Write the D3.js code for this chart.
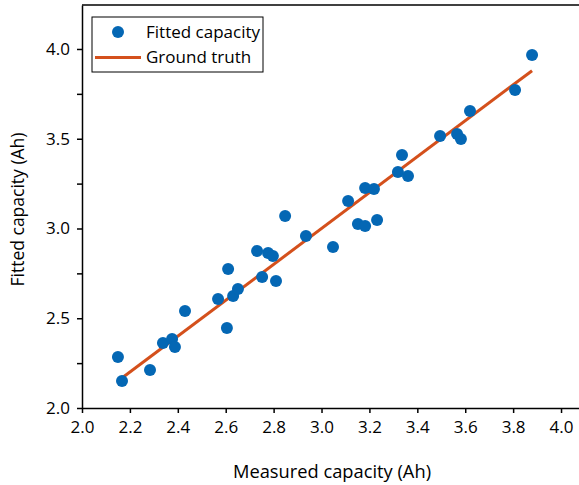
<!DOCTYPE html>
<html>
<head>
<meta charset="utf-8">
<script src="https://cdn.jsdelivr.net/npm/d3@7"></script>
<style>
  body { margin: 0; background: #fff; }
  svg text { font-family: "Open Sans", sans-serif; fill: #000; }
</style>
</head>
<body>
<svg id="chart"></svg>
<script>
const measured = [2.15, 2.167, 2.284, 2.338, 2.376, 2.388, 2.43, 2.568, 2.61, 2.605,
  2.631, 2.651, 2.731, 2.752, 2.777, 2.797, 2.81, 2.848, 2.935, 3.048,
  3.111, 3.152, 3.182, 3.182, 3.219, 3.232, 3.319, 3.336, 3.361, 3.495,
  3.566, 3.582, 3.62, 3.808, 3.879];
const fitted = [2.284, 2.15, 2.212, 2.362, 2.384, 2.34, 2.54, 2.607, 2.774, 2.446,
  2.624, 2.663, 2.875, 2.73, 2.864, 2.847, 2.708, 3.07, 2.958, 2.897,
  3.153, 3.025, 3.226, 3.014, 3.22, 3.047, 3.315, 3.409, 3.292, 3.515,
  3.526, 3.499, 3.655, 3.772, 3.967];
const xTicks = [2.0, 2.2, 2.4, 2.6, 2.8, 3.0, 3.2, 3.4, 3.6, 3.8, 4.0];
const yTicks = [2.0, 2.25, 2.5, 2.75, 3.0, 3.25, 3.5, 3.75, 4.0];
const seriesNames = ['Fitted capacity', 'Ground truth'];

const width = 579, height = 485;
const margin = { top: 5, right: 0, bottom: 77, left: 82 };
const blue = '#0467b4', orange = '#d4501c';

const svg = d3.select('#chart').attr('width', width).attr('height', height);

const x = d3.scaleLinear().domain([2.0, 4.075]).range([margin.left, width - margin.right]);
const y = d3.scaleLinear().domain([2.0, 4.245]).range([height - margin.bottom, margin.top]);

// axes
const xAxis = d3.axisBottom(x).tickValues(xTicks).tickSize(5).tickSizeOuter(0)
  .tickFormat(d3.format('.1f'));
const yAxis = d3.axisLeft(y).tickValues(yTicks).tickSize(5).tickSizeOuter(0)
  .tickFormat(d => (d * 2) % 1 === 0 ? d3.format('.1f')(d) : '');

const gx = svg.append('g')
  .attr('transform', `translate(0,${height - margin.bottom})`)
  .call(xAxis);
const gy = svg.append('g')
  .attr('transform', `translate(${margin.left},0)`)
  .call(yAxis);

[gx, gy].forEach(g => {
  g.selectAll('.domain').attr('stroke', '#000').attr('stroke-width', 1.5);
  g.selectAll('.tick line').attr('stroke', '#000').attr('stroke-width', 1.5);
  g.selectAll('.tick text').attr('font-size', 17).style('font-family', '"Open Sans", sans-serif');
});
gx.selectAll('.tick text').attr('dy', '1.0em');
gy.selectAll('.tick text').attr('x', -12);

// top frame
svg.append('line')
  .attr('x1', margin.left).attr('x2', width)
  .attr('y1', margin.top).attr('y2', margin.top)
  .attr('stroke', '#000').attr('stroke-width', 1.5);

// ground truth line (y = x)
const sorted = measured.slice().sort((a, b) => a - b);
const line = d3.line().x(d => x(d)).y(d => y(d));
svg.append('path')
  .datum([sorted[0], sorted[sorted.length - 1]])
  .attr('d', line)
  .attr('fill', 'none')
  .attr('stroke', orange)
  .attr('stroke-width', 3);

// points
svg.append('g').selectAll('circle')
  .data(measured.map((m, i) => [m, fitted[i]]))
  .join('circle')
  .attr('cx', d => x(d[0]))
  .attr('cy', d => y(d[1]))
  .attr('r', 6)
  .attr('fill', blue);

// axis titles
svg.append('text')
  .attr('x', 332)
  .attr('y', 478)
  .attr('text-anchor', 'middle')
  .attr('font-size', 18.3)
  .text('Measured capacity (Ah)');

svg.append('text')
  .attr('transform', `translate(24,${(margin.top + height - margin.bottom) / 2 + 3}) rotate(-90)`)
  .attr('text-anchor', 'middle')
  .attr('font-size', 17.5)
  .text('Fitted capacity (Ah)');

// legend
const legend = svg.append('g');
legend.append('rect')
  .attr('x', 92).attr('y', 17).attr('width', 171).attr('height', 55)
  .attr('fill', '#fff').attr('stroke', '#000').attr('stroke-width', 1);
legend.append('circle').attr('cx', 118).attr('cy', 32).attr('r', 6).attr('fill', blue);
legend.append('line').attr('x1', 95).attr('x2', 141).attr('y1', 57.5).attr('y2', 57.5)
  .attr('stroke', orange).attr('stroke-width', 3);
legend.selectAll('text.leg')
  .data(seriesNames)
  .join('text')
  .attr('class', 'leg')
  .attr('x', 146)
  .attr('y', (d, i) => 38 + i * 25)
  .attr('font-size', 17)
  .text(d => d);
</script>
</body>
</html>
